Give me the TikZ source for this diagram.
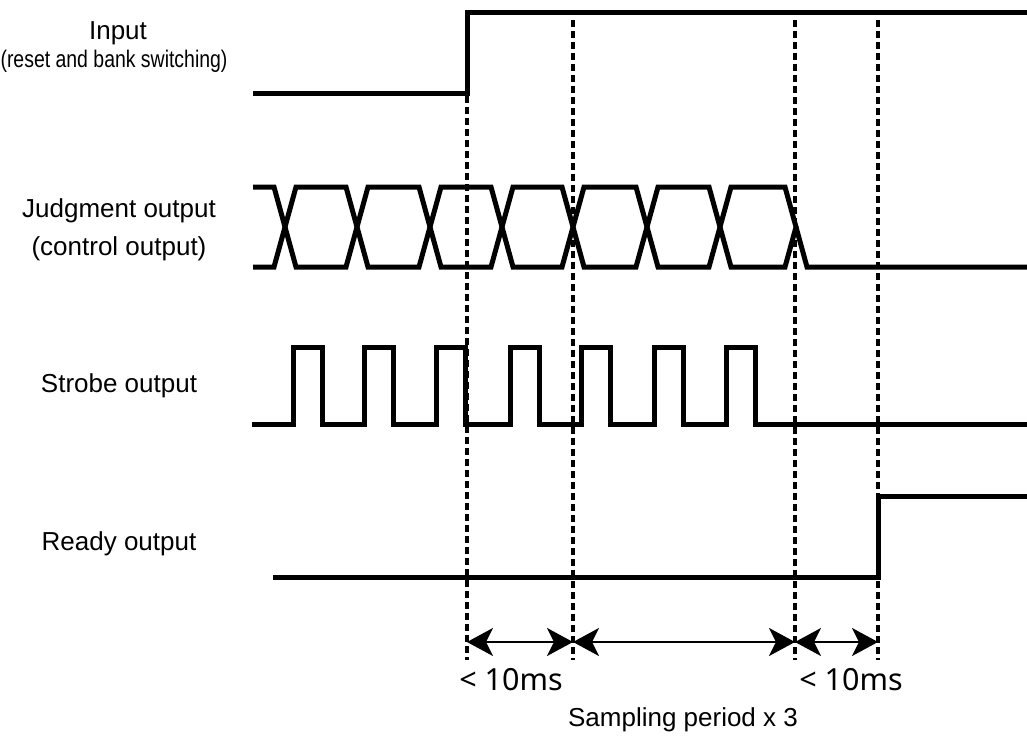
\documentclass[tikz,border=0pt]{standalone}
\usepackage{fontspec}
\setmainfont{Liberation Sans}
\newfontfamily\narrowfont{Liberation Sans}[FakeStretch=0.81]
\newfontfamily\msfont{Noto Sans}
\usetikzlibrary{arrows.meta}

\tikzset{
  wave/.style={line width=2.5pt},
  guide/.style={line width=1.6pt, dash pattern=on 3.5pt off 2pt},
  span/.style={line width=1.2pt, {Stealth[length=13pt,width=14pt,inset=3.5pt]}-{Stealth[length=13pt,width=14pt,inset=3.5pt]}},
  lbl/.style={anchor=base, font=\fontsize{13}{15}\selectfont},
}

\begin{document}
\begin{tikzpicture}[x=0.5pt, y=-0.5pt]
  \useasboundingbox (0,0) rectangle (1027,738);

  % labels
  \node[lbl] (inlbl) at (118,40) {Input};
  \node[anchor=base, font=\narrowfont\fontsize{12}{14}\selectfont] (insub) at (114,68) {(reset and bank switching)};
  \node[lbl] (judglbl) at (119,217) {Judgment output};
  \node[lbl] (ctrllbl) at (119,255) {(control output)};
  \node[lbl] (strblbl) at (119,392) {Strobe output};
  \node[lbl] (rdylbl) at (119,550) {Ready output};

  % guide lines
  \draw[guide] (467,96) -- (467,660);
  \draw[guide] (573,20) -- (573,660);
  \draw[guide] (795,20) -- (795,660);
  \draw[guide] (878,20) -- (878,660);

  % input
  \draw[wave] (253,94) -- (467,94) -- (467,13) -- (1027,13);

  % judgment output
  \draw[wave] (253,187) -- (274,187) -- (285,227) -- (274,267) -- (253,267);
  \foreach \a/\b in {285/357,357/430,430/502,502/573,573/647,647/720,720/796}
    \draw[wave] (\a,227) -- (\a+11,187) -- (\b-11,187) -- (\b,227) -- (\b-11,267) -- (\a+11,267) -- cycle;
  \draw[wave] (796,227) -- (807,267) -- (1027,267);

  % strobe output
  \draw[wave] (252,424)
    \foreach \r in {293,364,436,510,581,654,726} { -- (\r,424) -- (\r,347) -- (\r+29,347) -- (\r+29,424) }
    -- (1027,424);

  % ready output
  \draw[wave] (273,577) -- (878,577) -- (878,496) -- (1027,496);

  % spans
  \coordinate (s0) at (467,642);
  \coordinate (s1) at (573,642);
  \coordinate (s2) at (795,642);
  \coordinate (s3) at (878,642);
  \draw[span] (s0) -- (s1);
  \draw[span] (s1) -- (s2);
  \draw[span] (s2) -- (s3);

  \node[anchor=base, font=\msfont\fontsize{15.25}{18}\selectfont] (ms1) at (511,690) {< 10ms};
  \node[anchor=base, font=\msfont\fontsize{15.25}{18}\selectfont] (ms2) at (851,690) {< 10ms};
  \node[lbl] (samp) at (683,726) {Sampling period x 3};
\end{tikzpicture}
\end{document}
